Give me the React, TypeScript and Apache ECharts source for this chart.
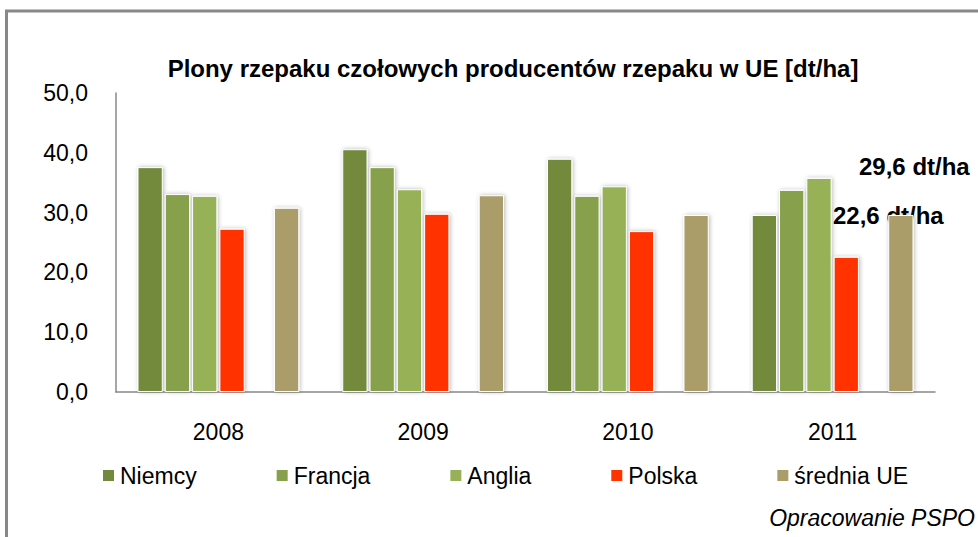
import React, { useEffect, useRef } from "react";
import * as echarts from "echarts";

const years = ["2008", "2009", "2010", "2011"];
const niemcy = [37.6, 40.6, 39.0, 29.6];
const francja = [33.1, 37.6, 32.8, 33.8];
const anglia = [32.8, 33.9, 34.4, 35.8];
const polska = [27.3, 29.8, 26.9, 22.6];
const sredniaUE = [30.8, 32.9, 29.6, 29.6];
const spacer = [null, null, null, null];

const seriesNames = ["Niemcy", "Francja", "Anglia", "Polska", "średnia UE"];
const seriesColors = ["#738A3E", "#86A04B", "#96B157", "#FF3300", "#AA9D6A"];

const title = "Plony rzepaku czołowych producentów rzepaku w UE [dt/ha]";
const noteA = "29,6 dt/ha";
const noteB = "22,6 dt/ha";
const source = "Opracowanie PSPO";

const FONT = "'Liberation Sans', Arial, sans-serif";

export default function App() {
  const ref = useRef<HTMLDivElement>(null);
  useEffect(() => {
    document.body.style.margin = "0";
    if (!ref.current) return;
    const chart = echarts.init(ref.current, null, { renderer: "svg" });
    const itemStyle = (c: string) => ({
      color: c,
      borderColor: "#ffffff",
      borderWidth: 1,
      shadowColor: "rgba(0,0,0,0.28)",
      shadowBlur: 4,
      shadowOffsetX: 1,
      shadowOffsetY: 0,
    });
    const dataSets = [niemcy, francja, anglia, polska];
    const series: any[] = dataSets.map((d, i) => ({
      name: seriesNames[i],
      type: "bar",
      data: d,
      itemStyle: itemStyle(seriesColors[i]),
      barGap: "8%",
      barCategoryGap: "21%",
    }));
    series.push({
      name: "_spacer",
      type: "bar",
      data: spacer,
      itemStyle: itemStyle("#ffffff"),
    });
    series.push({
      name: seriesNames[4],
      type: "bar",
      data: sredniaUE,
      itemStyle: itemStyle(seriesColors[4]),
    });
    chart.setOption({
      animation: false,
      backgroundColor: "#ffffff",
      textStyle: { fontFamily: FONT },
      title: {
        text: title,
        left: 508,
        textAlign: "center",
        top: 51,
        textStyle: { fontFamily: FONT, fontWeight: "bold", fontSize: 24, color: "#000" },
      },
      grid: { left: 116, right: 43, top: 93, bottom: 145 },
      legend: {
        data: seriesNames,
        left: 96,
        top: 459,
        itemGap: 78,
        itemWidth: 13,
        itemHeight: 13,
        icon: "rect",
        textStyle: { fontFamily: FONT, fontSize: 23, color: "#000", padding: [0, 0, 0, 0] },
      },
      xAxis: {
        type: "category",
        data: years,
        axisLine: { lineStyle: { color: "#888888", width: 1.5 } },
        axisTick: { show: false },
        axisLabel: { fontFamily: FONT, fontSize: 23, color: "#000", margin: 28 },
      },
      yAxis: {
        type: "value",
        min: 0,
        max: 50,
        interval: 10,
        axisLine: { show: true, lineStyle: { color: "#888888", width: 1.5 } },
        axisTick: { show: false },
        splitLine: { show: false },
        axisLabel: {
          fontFamily: FONT,
          fontSize: 23,
          color: "#000",
          margin: 28,
          formatter: (v: number) => v.toFixed(1).replace(".", ","),
        },
      },
      series,
      graphic: [
        {
          type: "polyline",
          shape: { points: [[6.5, 540], [6.5, 11], [980, 11]] },
          style: { stroke: "#888888", lineWidth: 3, fill: "none" },
          silent: true,
        },
        {
          type: "text",
          left: 859,
          top: 154,
          style: { text: noteA, font: `bold 24px ${FONT}`, fill: "#000" },
        },
        {
          type: "text",
          left: 833,
          top: 203,
          style: { text: noteB, font: `bold 24px ${FONT}`, fill: "#000" },
        },
        {
          type: "text",
          right: 3,
          top: 506,
          style: { text: source, font: `italic 23px ${FONT}`, fill: "#000" },
        },
      ],
    });
    return () => chart.dispose();
  }, []);
  return (
    <div
      ref={ref}
      style={{ position: "absolute", left: 0, top: 0, width: 978, height: 537 }}
    />
  );
}
